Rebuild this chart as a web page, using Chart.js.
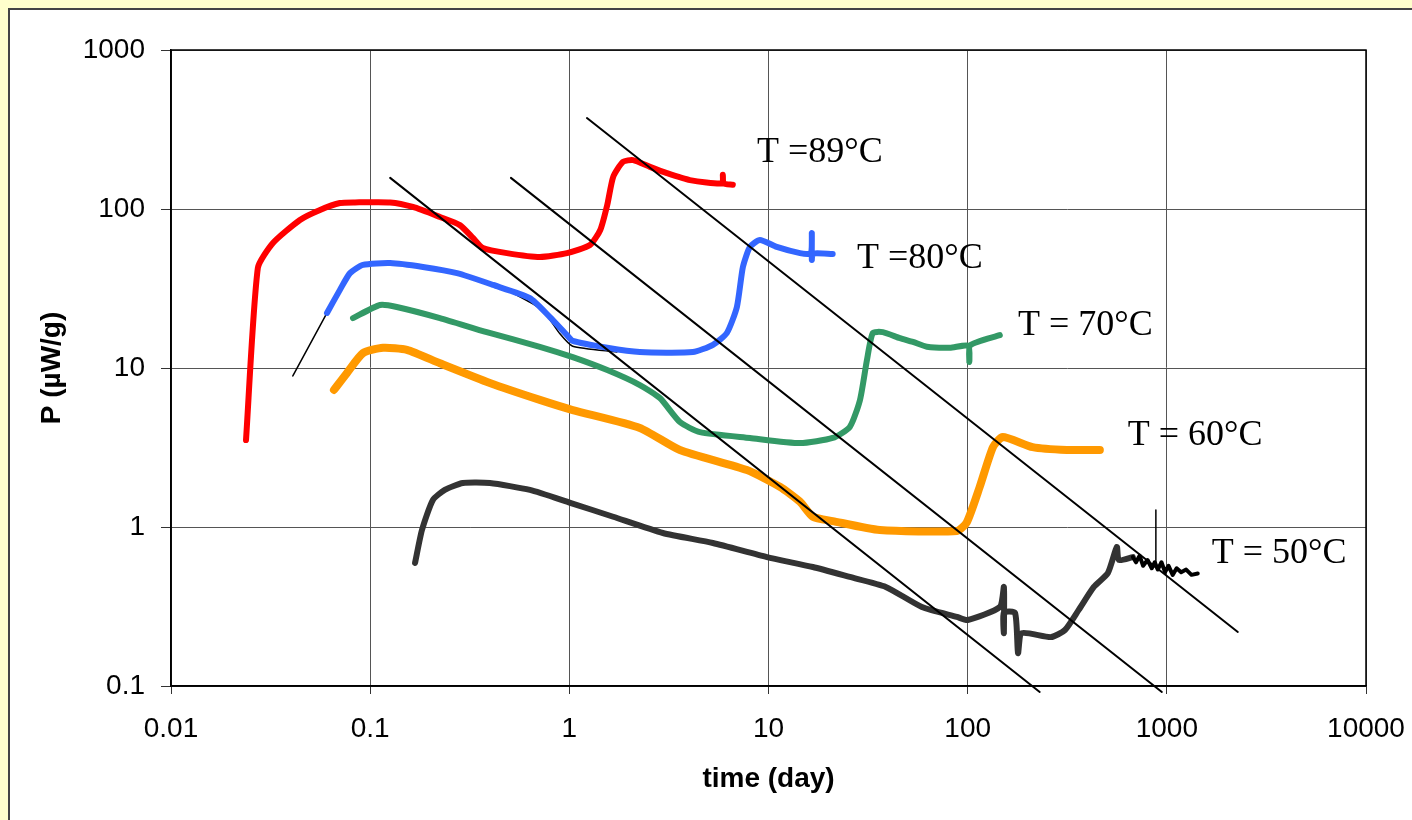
<!DOCTYPE html>
<html lang="en">
<head>
  <meta charset="UTF-8">
  <title>P vs time</title>
  <style>
    * { margin: 0; padding: 0; box-sizing: border-box; }
    body {
      background: #FFFFCC;
      width: 1412px;
      height: 820px;
      overflow: hidden;
      position: relative;
    }
    /* white panel, right and bottom edges run off the page */
    .panel {
      position: absolute;
      left: 8px;
      top: 8px;
      width: 1420px;
      height: 830px;
      background: #fff;
      border: 2px solid #444;
    }
    /* canvas a bit wider than the page so the plot can reach x=1366 */
    #chart {
      position: absolute;
      left: 0;
      top: 0;
    }
  </style>
  <script src="https://cdn.jsdelivr.net/npm/chart.js"></script>
</head>
<body>
  <div class="panel"></div>
  <canvas id="chart" width="1423" height="820"></canvas>

  <script>
    // axis ticks
    const xTicks = [0.01, 0.1, 1, 10, 100, 1000, 10000];
    const xTickLabels = ['0.01', '0.1', '1', '10', '100', '1000', '10000'];
    const yTicks = [0.1, 1, 10, 100, 1000];
    const yTickLabels = ['0.1', '1', '10', '100', '1000'];

    // T = 89°C
    const t89 = [0.0238, 0.0273, 0.0325, 0.0444, 0.056, 0.0705, 0.0839, 0.126, 0.164, 0.224, 0.282, 0.328, 0.368, 0.486, 0.711, 0.973, 1.27, 1.43, 1.55, 1.66, 1.86, 2.09, 2.54, 3.09, 4.03, 5.85, 5.9, 5.95, 6.62];
    const p89 = [3.52, 42.6, 61.1, 85.3, 98.6, 109, 110, 110, 103, 89.1, 79.2, 65.8, 56.9, 52.8, 49.9, 52.8, 59.4, 73.8, 106, 159, 198, 203, 184, 168, 152, 145, 164, 145, 142];

    // T = 80°C
    const t80 = [0.0607, 0.0705, 0.0792, 0.092, 0.126, 0.184, 0.273, 0.414, 0.634, 0.799, 0.973, 1.04, 1.55, 2.26, 4.17, 5.26, 6.18, 6.94, 7.44, 8.07, 9.06, 11.0, 14.4, 16.3, 16.5, 16.5, 16.7, 21.0];
    const p80 = [22.2, 31.0, 39.5, 44.5, 45.7, 43.2, 39.5, 33.3, 27.5, 20.9, 16.1, 14.8, 13.4, 12.6, 12.6, 14.0, 16.6, 24.2, 43.2, 57.7, 63.8, 57.7, 52.8, 52.6, 70.6, 47.8, 52.4, 52.1];

    // T = 70°C
    const t70 = [0.082, 0.112, 0.136, 0.224, 0.385, 0.711, 1.04, 1.55, 2.26, 2.85, 3.59, 4.53, 8.07, 14.4, 21.0, 25.6, 28.8, 31.2, 33.4, 37.5, 45.7, 53.1, 62.4, 81.4, 101, 102, 103, 145];
    const p70 = [20.6, 24.9, 24.2, 20.6, 16.8, 13.6, 11.7, 9.7, 7.81, 6.47, 4.57, 3.95, 3.63, 3.37, 3.63, 4.26, 6.30, 11.2, 16.6, 16.8, 15.4, 14.6, 13.6, 13.4, 13.8, 10.9, 13.9, 16.1];

    // T = 60°C
    const t60 = [0.0658, 0.0765, 0.092, 0.116, 0.153, 0.224, 0.399, 0.711, 1.04, 2.26, 3.59, 7.79, 11.4, 14.4, 16.7, 21.0, 36.2, 88.3, 99, 115, 134, 150, 212, 315, 461];
    const p60 = [7.28, 9.31, 12.4, 13.4, 13.0, 10.7, 8.05, 6.30, 5.44, 4.20, 3.05, 2.28, 1.79, 1.44, 1.16, 1.09, 0.957, 0.944, 1.07, 1.79, 3.18, 3.68, 3.18, 3.05, 3.05];

    // T = 50°C
    const t50 = [0.168, 0.182, 0.2065, 0.237, 0.292, 0.399, 0.634, 1.01, 1.66, 2.95, 5.26, 9.82, 16.7, 25.6, 38.8, 58.9, 88.3, 100, 145, 152, 152, 152, 173, 179, 187, 262, 308, 361, 430, 506, 561, 574, 675];
    const p50 = [0.594, 0.957, 1.48, 1.71, 1.89, 1.89, 1.71, 1.42, 1.16, 0.917, 0.793, 0.647, 0.560, 0.485, 0.420, 0.314, 0.272, 0.260, 0.314, 0.420, 0.215, 0.290, 0.288, 0.161, 0.215, 0.203, 0.225, 0.301, 0.420, 0.514, 0.748, 0.620, 0.647];
    // noisy black end of the 50°C run
    const t50End = [675, 700, 730, 760, 800, 840, 870, 900, 940, 980, 1020, 1070, 1120, 1180, 1250, 1330, 1430];
    const p50End = [0.647, 0.60, 0.66, 0.57, 0.62, 0.55, 0.60, 0.54, 0.60, 0.52, 0.57, 0.50, 0.55, 0.52, 0.54, 0.50, 0.51];
    const tSpike = [881, 881];
    const pSpike = [0.58, 1.28];

    // thin black traces under the 80°C run
    const tThin1 = [0.0409, 0.0607];
    const pThin1 = [8.91, 22.2];
    const tThin2 = [0.486, 0.656, 0.754, 0.897, 1.04, 1.73];
    const pThin2 = [31.0, 25.3, 22.2, 16.4, 13.7, 12.6];

    // straight guide lines
    const tGuideA = [0.126, 230];
    const pGuideA = [157, 0.0917];
    const tGuideB = [0.509, 944];
    const pGuideB = [157, 0.0917];
    const tGuideC = [1.226, 2272];
    const pGuideC = [373.5, 0.2187];

    // curve labels, anchored at left end / baseline
    const labelTexts = ['T =89°C', 'T =80°C', 'T = 70°C', 'T = 60°C', 'T = 50°C'];
    const labelT = [8.75, 27.8, 179, 637, 1682];
    const labelP = [198, 42.6, 16.1, 3.28, 0.594];

    function pts(ts, ps) {
      return ts.map((t, i) => ({ x: t, y: ps[i] }));
    }

    function series(ts, ps, color, width, extra) {
      return Object.assign({
        data: pts(ts, ps),
        showLine: true,
        borderColor: color,
        backgroundColor: color,
        borderWidth: width,
        pointRadius: 0,
        tension: 0.2,
        borderCapStyle: 'round',
        borderJoinStyle: 'round'
      }, extra || {});
    }

    // plot frame + curve labels
    const extrasPlugin = {
      id: 'extras',
      afterDraw(chart) {
        const { ctx, chartArea, scales } = chart;
        ctx.save();
        ctx.strokeStyle = '#000';
        ctx.lineWidth = 1.5;
        ctx.strokeRect(chartArea.left, chartArea.top, chartArea.right - chartArea.left, chartArea.bottom - chartArea.top);

        ctx.fillStyle = '#000';
        ctx.font = '36px "Liberation Serif", "Times New Roman", serif';
        ctx.textAlign = 'left';
        ctx.textBaseline = 'alphabetic';
        labelTexts.forEach((txt, i) => {
          ctx.fillText(txt, scales.x.getPixelForValue(labelT[i]), scales.y.getPixelForValue(labelP[i]));
        });
        ctx.restore();
      }
    };

    const tickFont = { family: '"Liberation Sans", Arial, sans-serif', size: 28 };
    const titleFont = { family: '"Liberation Sans", Arial, sans-serif', size: 28, weight: 'bold' };

    new Chart(document.getElementById('chart'), {
      type: 'scatter',
      data: {
        datasets: [
          series(tGuideA, pGuideA, '#000', 2, { tension: 0, clip: false }),
          series(tGuideB, pGuideB, '#000', 2, { tension: 0, clip: false }),
          series(tGuideC, pGuideC, '#000', 2, { tension: 0, clip: false }),
          series(tSpike, pSpike, '#000', 1.5, { tension: 0 }),
          series(t50End, p50End, '#000', 4, { tension: 0 }),
          series(t89, p89, '#FF0000', 6),
          series(t80, p80, '#3366FF', 6),
          series(t70, p70, '#339966', 6),
          series(t60, p60, '#FF9900', 8),
          series(t50, p50, '#333333', 6),
          series(tThin1, pThin1, '#000', 1.5, { tension: 0 }),
          series(tThin2, pThin2, '#000', 1.5)
        ]
      },
      options: {
        responsive: false,
        animation: false,
        events: [],
        layout: { padding: { left: 0, right: 57, top: 50, bottom: 0 } },
        plugins: {
          legend: { display: false },
          tooltip: { enabled: false }
        },
        scales: {
          x: {
            type: 'logarithmic',
            min: 0.01,
            max: 10000,
            afterBuildTicks: s => { s.ticks = xTicks.map(v => ({ value: v })); },
            afterFit: s => { s.height = 134; },
            ticks: {
              autoSkip: false,
              maxRotation: 0,
              padding: 18,
              color: '#000',
              font: tickFont,
              callback: (v, i) => xTickLabels[i]
            },
            grid: { color: '#555', lineWidth: 1, tickLength: 8, tickColor: '#333' },
            border: { display: true, color: '#000', width: 1.5 },
            title: {
              display: true,
              text: 'time (day)',
              color: '#000',
              font: titleFont,
              padding: { top: 0, bottom: 24 }
            }
          },
          y: {
            type: 'logarithmic',
            min: 0.1,
            max: 1000,
            afterBuildTicks: s => { s.ticks = yTicks.map(v => ({ value: v })); },
            afterFit: s => { s.width = 171; },
            ticks: {
              autoSkip: false,
              padding: 16,
              color: '#000',
              font: tickFont,
              callback: (v, i) => yTickLabels[i]
            },
            grid: { color: '#555', lineWidth: 1, tickLength: 10, tickColor: '#333' },
            border: { display: true, color: '#000', width: 1.5 },
            title: {
              display: true,
              text: 'P (µW/g)',
              color: '#000',
              font: titleFont,
              padding: { top: 35, bottom: 0 }
            }
          }
        }
      },
      plugins: [extrasPlugin]
    });
  </script>
</body>
</html>
